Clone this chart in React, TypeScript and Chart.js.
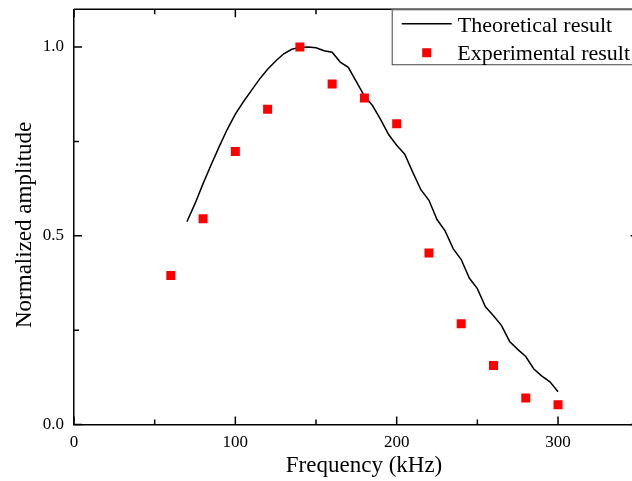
import { useEffect, useRef } from 'react';
import { Chart, registerables } from 'chart.js';

Chart.register(...registerables);

const FONT = '"Liberation Serif", "Times New Roman", Times, serif';

const theoFreq = [70, 75, 80, 85, 90, 95, 100, 105, 110, 115, 120, 125, 130, 135, 140, 145, 150, 155, 160, 165, 170, 175, 180, 185, 190, 195, 200, 205, 210, 215, 220, 225, 230, 235, 240, 245, 250, 255, 260, 265, 270, 275, 280, 285, 290, 295, 300];
const theoAmp = [0.537, 0.585, 0.638, 0.688, 0.736, 0.782, 0.822, 0.855, 0.885, 0.915, 0.941, 0.963, 0.982, 0.994, 0.999, 1.0, 0.998, 0.99, 0.986, 0.96, 0.946, 0.908, 0.87, 0.845, 0.808, 0.768, 0.74, 0.716, 0.668, 0.622, 0.594, 0.543, 0.513, 0.466, 0.437, 0.388, 0.36, 0.312, 0.288, 0.262, 0.22, 0.199, 0.18, 0.147, 0.128, 0.113, 0.087];

const expFreq = [60, 80, 100, 120, 140, 160, 180, 200, 220, 240, 260, 280, 300];
const expAmp = [0.395, 0.545, 0.723, 0.835, 1.0, 0.902, 0.865, 0.797, 0.454, 0.267, 0.156, 0.07, 0.052];

const xMinorTicks = [50, 150, 250, 350];
const yMinorTicks = [0.25, 0.75];

const seriesLabels = ['Theoretical result', 'Experimental result'];
const xTitle = 'Frequency (kHz)';
const yTitle = 'Normalized amplitude';

const framePlugin = {
  id: 'frameAndLegend',
  afterDraw(chart: any) {
    const { ctx, chartArea: a, scales } = chart;
    const xs = scales.x;
    const ys = scales.y;
    ctx.save();
    ctx.strokeStyle = '#000';
    ctx.lineWidth = 1.5;
    ctx.beginPath();
    ctx.moveTo(a.left, a.top);
    ctx.lineTo(a.right, a.top);
    ctx.lineTo(a.right, a.bottom);
    ctx.stroke();

    const tickX = (v: number, len: number) => {
      const px = xs.getPixelForValue(v);
      ctx.moveTo(px, a.bottom);
      ctx.lineTo(px, a.bottom - len);
      ctx.moveTo(px, a.top);
      ctx.lineTo(px, a.top + len);
    };
    const tickY = (v: number, len: number) => {
      const py = ys.getPixelForValue(v);
      ctx.moveTo(a.left, py);
      ctx.lineTo(a.left + len, py);
      ctx.moveTo(a.right, py);
      ctx.lineTo(a.right - len, py);
    };
    ctx.beginPath();
    xs.ticks.forEach((t: any) => tickX(t.value, 8));
    xMinorTicks.forEach((v) => tickX(v, 5));
    ys.ticks.forEach((t: any) => tickY(t.value, 8));
    yMinorTicks.forEach((v) => tickY(v, 5));
    ctx.stroke();

    // axis titles
    ctx.fillStyle = '#000';
    ctx.font = `23px ${FONT}`;
    ctx.textAlign = 'center';
    ctx.textBaseline = 'alphabetic';
    ctx.fillText(xTitle, (a.left + a.right) / 2 + 7.7, 472);
    ctx.save();
    ctx.translate(31, (a.top + a.bottom) / 2 + 8);
    ctx.rotate(-Math.PI / 2);
    ctx.fillText(yTitle, 0, 0);
    ctx.restore();

    // legend
    const lx = a.right - 247;
    const ly = a.top;
    const lw = 260;
    const lh = 55;
    ctx.fillStyle = '#fff';
    ctx.fillRect(lx, ly, lw, lh);
    ctx.strokeStyle = '#444';
    ctx.lineWidth = 1;
    ctx.strokeRect(lx + 0.5, ly + 0.5, lw, lh);
    const ds0 = chart.data.datasets[1];
    const ds1 = chart.data.datasets[0];
    ctx.strokeStyle = ds0.borderColor;
    ctx.lineWidth = 1.5;
    ctx.beginPath();
    ctx.moveTo(lx + 10, ly + 14.5);
    ctx.lineTo(lx + 60, ly + 14.5);
    ctx.stroke();
    ctx.fillStyle = ds1.backgroundColor;
    ctx.fillRect(lx + 35 - 4.5, ly + 43.5 - 4.5, 9, 9);
    ctx.fillStyle = '#000';
    ctx.font = `22px ${FONT}`;
    ctx.textAlign = 'left';
    ctx.fillText(ds0.label, lx + 66, ly + 22.5);
    ctx.fillText(ds1.label, lx + 65.5, ly + 50.5);
    ctx.restore();
  },
};

export default function App() {
  const ref = useRef<HTMLCanvasElement | null>(null);
  useEffect(() => {
    document.body.style.margin = '0';
    document.body.style.overflow = 'hidden';
    const canvas = ref.current;
    if (!canvas) return;
    const chart = new Chart(canvas, {
      type: 'line',
      data: {
        datasets: [
          {
            label: seriesLabels[1],
            data: expFreq.map((f, i) => ({ x: f, y: expAmp[i] })),
            showLine: false,
            pointStyle: 'rect',
            pointRadius: 6.36,
            pointHoverRadius: 6.36,
            backgroundColor: '#ff0000',
            borderColor: '#ff0000',
            pointBorderWidth: 0,
            borderWidth: 0,
          },
          {
            label: seriesLabels[0],
            data: theoFreq.map((f, i) => ({ x: f, y: theoAmp[i] })),
            borderColor: '#000000',
            backgroundColor: '#000000',
            borderWidth: 1.5,
            pointRadius: 0,
            tension: 0,
            fill: false,
          },
        ],
      },
      options: {
        responsive: false,
        animation: false,
        events: [],
        layout: { padding: { top: 9.25, right: 11.3, left: 0, bottom: 0 } },
        plugins: {
          legend: { display: false },
          tooltip: { enabled: false },
        },
        scales: {
          x: {
            type: 'linear',
            min: 0,
            max: 350,
            grid: { display: false, drawTicks: false },
            border: { display: true, color: '#000', width: 1.5 },
            ticks: {
              stepSize: 100,
              includeBounds: false,
              color: '#000',
              padding: 8,
              font: { family: FONT, size: 17 },
              maxRotation: 0,
              callback: (v: any) => String(v),
            },
            afterFit: (s: any) => {
              s.height = 56.5;
              s.paddingLeft = 0;
              s.paddingRight = 0;
            },
          },
          y: {
            type: 'linear',
            min: 0,
            max: 1.1,
            grid: { display: false, drawTicks: false },
            border: { display: true, color: '#000', width: 1.5 },
            ticks: {
              stepSize: 0.5,
              includeBounds: false,
              color: '#000',
              padding: 10,
              font: { family: FONT, size: 17 },
              callback: (v: any) => Number(v).toFixed(1),
            },
            afterFit: (s: any) => {
              s.width = 74;
              s.paddingTop = 0;
              s.paddingBottom = 0;
            },
          },
        },
      },
      plugins: [framePlugin],
    });
    return () => chart.destroy();
  }, []);
  return (
    <div style={{ width: 650, height: 481 }}>
      <canvas ref={ref} width={650} height={481} style={{ display: 'block' }} />
    </div>
  );
}
